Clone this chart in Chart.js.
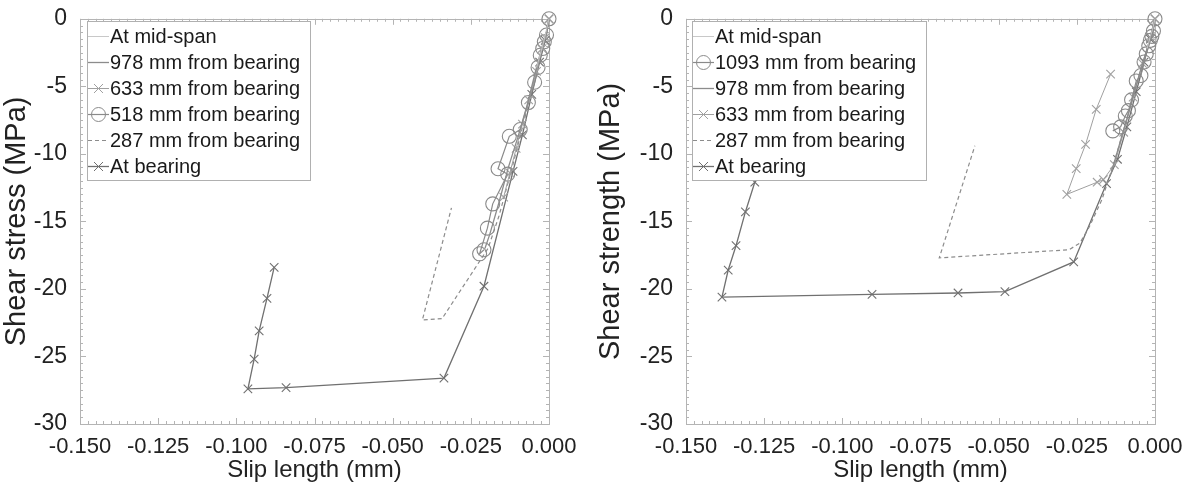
<!DOCTYPE html>
<html><head><meta charset="utf-8">
<script src="https://cdn.jsdelivr.net/npm/chart.js@4.4.1/dist/chart.umd.min.js"></script>
<style>
html,body{margin:0;padding:0;background:#fff;width:1188px;height:491px;overflow:hidden}
#wrap{position:relative;width:1188px;height:491px}
canvas.cv{position:absolute;top:0}
.legend{position:absolute;border:1px solid #b0b0b0;background:#fff;font-family:"Liberation Sans",Arial,sans-serif;font-size:20px;color:#1a1a1a;padding:1px 0 1px 0;box-sizing:border-box}
.row{display:flex;align-items:center;height:26px;white-space:nowrap}
.row canvas{margin-right:1px;flex:none}
</style></head>
<body><div id="wrap">
<canvas id="c1" class="cv" width="594" height="491" style="left:0"></canvas>
<canvas id="c2" class="cv" width="594" height="491" style="left:594px"></canvas>
<div id="lg1" class="legend" style="left:87px;top:21px;width:224px;height:160px"></div>
<div id="lg2" class="legend" style="left:692px;top:21px;width:235px;height:160px"></div>
</div>
<script>
// ---- axis tick labels ----
const xTickValues = [-0.150, -0.125, -0.100, -0.075, -0.050, -0.025, 0.000];
const xTickLabels = ['-0.150', '-0.125', '-0.100', '-0.075', '-0.050', '-0.025', '0.000'];
const yTickValues = [-30, -25, -20, -15, -10, -5, 0];
const yTickLabels = ['-30', '-25', '-20', '-15', '-10', '-5', '0'];

// ---- left chart: shear stress ----
const leftLabels = ['At mid-span', '978 mm from bearing', '633 mm from bearing', '518 mm from bearing', '287 mm from bearing', 'At bearing'];
const leftMidX = [0, -0.0008, -0.0015, -0.0025, -0.004];
const leftMidY = [0, -0.8, -1.5, -2.4, -3.6];
const left978X = [0, -0.001, -0.002, -0.004, -0.007, -0.010, -0.013, -0.016, -0.019, -0.0205];
const left978Y = [0, -1.2, -1.9, -3.6, -6.4, -8.8, -11.0, -13.6, -16.0, -17.0];
const left633X = [0, -0.0012, -0.0022, -0.004, -0.0065, -0.0085, -0.0105, -0.0125, -0.0145];
const left633Y = [0, -1.4, -2.2, -3.9, -6.0, -7.8, -9.6, -11.4, -13.2];
const left518X = [0, -0.0008, -0.0015, -0.002, -0.0028, -0.0035, -0.0046, -0.0066, -0.0092, -0.0127, -0.0163, -0.0132, -0.018, -0.0197, -0.0222, -0.0208];
const left518Y = [0, -1.2, -1.7, -2.2, -2.7, -3.6, -4.7, -6.2, -8.2, -8.7, -11.1, -11.5, -13.7, -15.5, -17.4, -17.1];
const left287X = [0, -0.0015, -0.004, -0.008, -0.012, -0.016, -0.0195, -0.0342, -0.0405, -0.0312];
const left287Y = [0, -1.5, -3.8, -7.6, -11.2, -14.6, -17.0, -22.2, -22.3, -14.0];
const leftBearX = [0, -0.0012, -0.003, -0.0055, -0.0085, -0.0115, -0.0208, -0.0336, -0.0841, -0.0963, -0.0943, -0.0927, -0.0902, -0.0879];
const leftBearY = [0, -1.6, -3.2, -5.6, -8.6, -11.3, -19.8, -26.6, -27.3, -27.4, -25.2, -23.1, -20.7, -18.4];

// ---- right chart: shear strength ----
const rightLabels = ['At mid-span', '1093 mm from bearing', '978 mm from bearing', '633 mm from bearing', '287 mm from bearing', 'At bearing'];
const rightMidX = [0, -0.0008, -0.0015, -0.0025];
const rightMidY = [0, -0.8, -1.3, -2.2];
const right1093X = [0, -0.0005, -0.001, -0.0015, -0.002, -0.0028, -0.0035, -0.0045, -0.006, -0.0075, -0.0085, -0.0095, -0.011, -0.0135];
const right1093Y = [0, -0.9, -1.3, -1.6, -2.0, -2.6, -3.2, -4.2, -4.6, -6.0, -6.8, -7.2, -8.0, -8.3];
const right978X = [0, -0.002, -0.005, -0.008, -0.011, -0.014];
const right978Y = [0, -1.8, -4.1, -6.6, -9.0, -11.4];
const right633X = [0, -0.0015, -0.004, -0.007, -0.010, -0.013, -0.0165, -0.0185, -0.0282, -0.0252, -0.0222, -0.0188, -0.0142];
const right633Y = [0, -1.4, -3.3, -5.8, -8.4, -10.8, -11.9, -12.1, -13.0, -11.1, -9.3, -6.7, -4.1];
const right287X = [0, -0.002, -0.005, -0.009, -0.013, -0.017, -0.021, -0.024, -0.0275, -0.069, -0.0576];
const right287Y = [0, -1.8, -4.2, -7.4, -10.6, -13.4, -15.4, -16.6, -17.1, -17.7, -9.4];
const rightBearX = [0, -0.0015, -0.0035, -0.006, -0.009, -0.012, -0.0155, -0.026, -0.048, -0.063, -0.0905, -0.1385, -0.1365, -0.134, -0.131, -0.128];
const rightBearY = [0, -1.5, -3.2, -5.4, -8.0, -10.4, -12.2, -18.0, -20.2, -20.3, -20.4, -20.6, -18.6, -16.8, -14.3, -12.1];

const pts = (xs, ys) => xs.map((x, i) => ({x, y: ys[i]}));

const STYLES = {
  mid:  {color: '#c8c8c8', width: 1, dash: [], marker: false},
  solid:{color: '#8c8c8c', width: 1.3, dash: [], marker: false},
  xLight:{color: '#a0a0a0', width: 1, dash: [], marker: 'crossRot'},
  circ: {color: '#8a8a8a', width: 1.2, dash: [], marker: 'circle'},
  dash: {color: '#8c8c8c', width: 1.2, dash: [4, 3], marker: false},
  xDark:{color: '#707070', width: 1.3, dash: [], marker: 'crossRot'}
};

function ds(label, data, st) {
  return {
    label, data,
    borderColor: st.color, borderWidth: st.width, borderDash: st.dash,
    backgroundColor: 'rgba(0,0,0,0)',
    pointStyle: st.marker || 'circle',
    pointRadius: st.marker ? (st.marker === 'circle' ? 7 : 6) : 0,
    pointBorderColor: st.color, pointBorderWidth: 1.1,
    pointBackgroundColor: 'rgba(0,0,0,0)',
    showLine: true, tension: 0, clip: false, fill: false
  };
}

const FONT = '"Liberation Sans", Arial, sans-serif';

const framePlugin = {
  id: 'frame',
  beforeDatasetsDraw(chart) {
    const {ctx, chartArea: a, scales: {x, y}} = chart;
    ctx.save();
    ctx.strokeStyle = '#b4b4b4';
    ctx.lineWidth = 1;
    ctx.strokeRect(Math.round(a.left) + 0.5, Math.round(a.top) + 0.5, Math.round(a.right - a.left), Math.round(a.bottom - a.top));
    ctx.beginPath();
    for (let i = 0; i <= 60; i++) {
      const v = -0.15 + i * 0.0025;
      const px = Math.round(x.getPixelForValue(v)) + 0.5;
      const L = (i % 10 === 0) ? 6 : 3;
      ctx.moveTo(px, a.bottom); ctx.lineTo(px, a.bottom - L);
      ctx.moveTo(px, a.top); ctx.lineTo(px, a.top + L);
    }
    for (let i = 0; i <= 60; i++) {
      const v = -30 + i * 0.5;
      const py = Math.round(y.getPixelForValue(v)) + 0.5;
      const L = (i % 10 === 0) ? 6 : 3;
      ctx.moveTo(a.left, py); ctx.lineTo(a.left + L, py);
      ctx.moveTo(a.right, py); ctx.lineTo(a.right - L, py);
    }
    ctx.stroke();
    ctx.restore();
  }
};

function makeChart(id, datasets, yTitle, yWidth, rightPad) {
  return new Chart(document.getElementById(id), {
    type: 'scatter',
    data: {datasets},
    plugins: [framePlugin],
    options: {
      responsive: false, animation: false, devicePixelRatio: 1,
      layout: {padding: {left: 0, right: rightPad, top: 14, bottom: 0}},
      plugins: {legend: {display: false}, tooltip: {enabled: false}},
      scales: {
        x: {
          type: 'linear', min: -0.15, max: 0,
          grid: {display: false}, border: {display: false},
          ticks: {
            stepSize: 0.025, padding: 2, color: '#222', maxRotation: 0,
            font: {family: FONT, size: 22},
            callback: v => { const i = xTickValues.findIndex(t => Math.abs(t - v) < 1e-6); return i >= 0 ? xTickLabels[i] : ''; }
          },
          title: {display: true, text: 'Slip length (mm)', color: '#222', font: {family: FONT, size: 24}, padding: {top: 0, bottom: 6}},
          afterFit: s => { s.height = 67; }
        },
        y: {
          type: 'linear', min: -30, max: 0,
          grid: {display: false}, border: {display: false},
          ticks: {
            stepSize: 5, padding: 5, color: '#222',
            font: {family: FONT, size: 23},
            callback: v => { const i = yTickValues.findIndex(t => Math.abs(t - v) < 1e-6); return i >= 0 ? yTickLabels[i] : ''; }
          },
          title: {display: true, text: yTitle, color: '#222', font: {family: FONT, size: 29}, padding: {top: 0, bottom: 0}},
          afterFit: s => { s.width = yWidth; }
        }
      }
    }
  });
}

const leftStyles = [STYLES.mid, STYLES.solid, STYLES.xLight, STYLES.circ, STYLES.dash, STYLES.xDark];
const leftData = [pts(leftMidX, leftMidY), pts(left978X, left978Y), pts(left633X, left633Y), pts(left518X, left518Y), pts(left287X, left287Y), pts(leftBearX, leftBearY)];
const rightStyles = [STYLES.mid, STYLES.circ, STYLES.solid, STYLES.xLight, STYLES.dash, STYLES.xDark];
const rightData = [pts(rightMidX, rightMidY), pts(right1093X, right1093Y), pts(right978X, right978Y), pts(right633X, right633Y), pts(right287X, right287Y), pts(rightBearX, rightBearY)];

makeChart('c1', leftLabels.map((l, i) => ds(l, leftData[i], leftStyles[i])), 'Shear stress (MPa)', 80, 45);
makeChart('c2', rightLabels.map((l, i) => ds(l, rightData[i], rightStyles[i])), 'Shear strength (MPa)', 92, 33);

function buildLegend(id, labels, styles) {
  const box = document.getElementById(id);
  labels.forEach((lab, i) => {
    const st = styles[i];
    const row = document.createElement('div'); row.className = 'row';
    const c = document.createElement('canvas'); c.width = 21; c.height = 20;
    const g = c.getContext('2d');
    g.strokeStyle = st.color; g.lineWidth = st.width; g.setLineDash(st.dash);
    g.beginPath(); g.moveTo(0, 10.5); g.lineTo(21, 10.5); g.stroke();
    g.setLineDash([]); g.lineWidth = 1;
    if (st.marker === 'crossRot') { g.beginPath(); g.moveTo(6, 6); g.lineTo(15, 15); g.moveTo(15, 6); g.lineTo(6, 15); g.stroke(); }
    if (st.marker === 'circle') { g.beginPath(); g.arc(10.5, 10.5, 7, 0, Math.PI * 2); g.stroke(); }
    const t = document.createElement('span'); t.textContent = lab;
    row.appendChild(c); row.appendChild(t); box.appendChild(row);
  });
}
buildLegend('lg1', leftLabels, leftStyles);
buildLegend('lg2', rightLabels, rightStyles);
</script>
</body></html>
